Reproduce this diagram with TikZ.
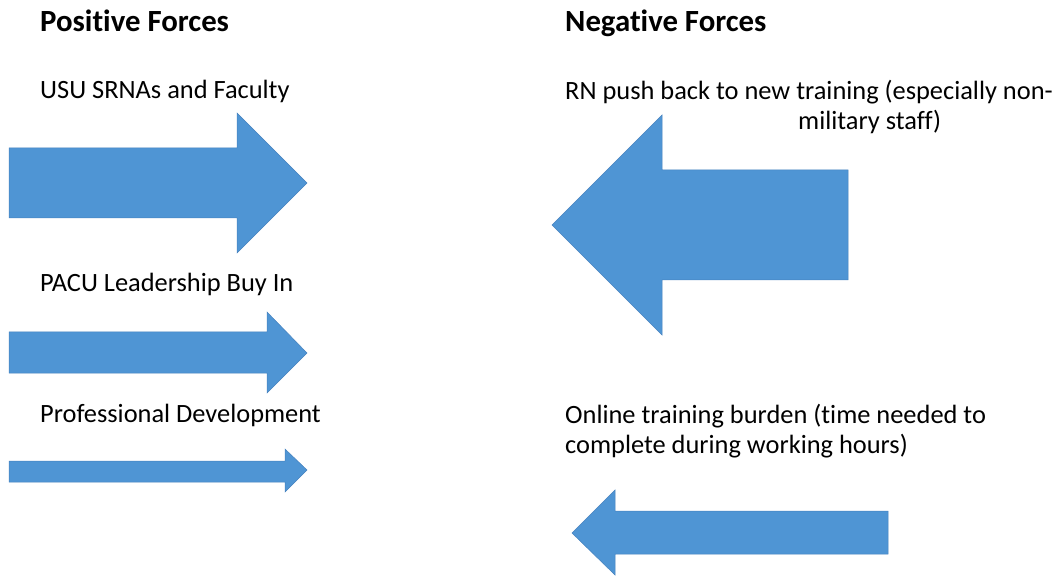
\documentclass[tikz,border=0pt]{standalone}
\usepackage{fontspec}
\setmainfont[Ligatures=NoCommon]{Carlito}
\definecolor{arrowblue}{RGB}{79,149,212}
\definecolor{arrowedge}{RGB}{70,130,190}
\begin{document}
\begin{tikzpicture}[x=1pt,y=-1pt,
  force/.style={fill=arrowblue,draw=arrowedge,line width=0.5pt,line join=miter},
  head/.style={anchor=base west,inner sep=0pt,font=\fontsize{30.8}{35}\selectfont\bfseries},
  lbl/.style={anchor=base west,inner sep=0pt,font=\fontsize{26.4}{30}\selectfont}]
\useasboundingbox (0,0) rectangle (1055,577);
% headings
\node[head] (pos) at (40,32) {Positive Forces};
\node[head] (neg) at (565,32) {Negative Forces};
% labels
\node[lbl] (l1) at (40,99) {USU SRNAs and Faculty};
\node[lbl] (l2) at (40,292) {PACU Leadership Buy In};
\node[lbl] (l3) at (40,422) {Professional Development};
\node[lbl] (r1a) at (565,100) {RN push back to new training (especially non-};
\node[lbl] (r1b) at (798,130) {military staff)};
\node[lbl] (r2a) at (565,423) {Online training burden (time needed to};
\node[lbl] (r2b) at (565,453) {complete during working hours)};
% positive arrows
\draw[force] (9,148) -- (237,148) -- (237,113) -- (307,183) -- (237,253) -- (237,218) -- (9,218) -- cycle;
\draw[force] (9,332) -- (267,332) -- (267,312) -- (307,353) -- (267,393) -- (267,373) -- (9,373) -- cycle;
\draw[force] (9,461) -- (285,461) -- (285,449) -- (307,470) -- (285,492) -- (285,482) -- (9,482) -- cycle;
% negative arrows
\draw[force] (848,170) -- (662,170) -- (662,115) -- (552,225) -- (662,335) -- (662,280) -- (848,280) -- cycle;
\draw[force] (888,511) -- (615,511) -- (615,490) -- (572,533) -- (615,575) -- (615,554) -- (888,554) -- cycle;
\end{tikzpicture}
\end{document}
